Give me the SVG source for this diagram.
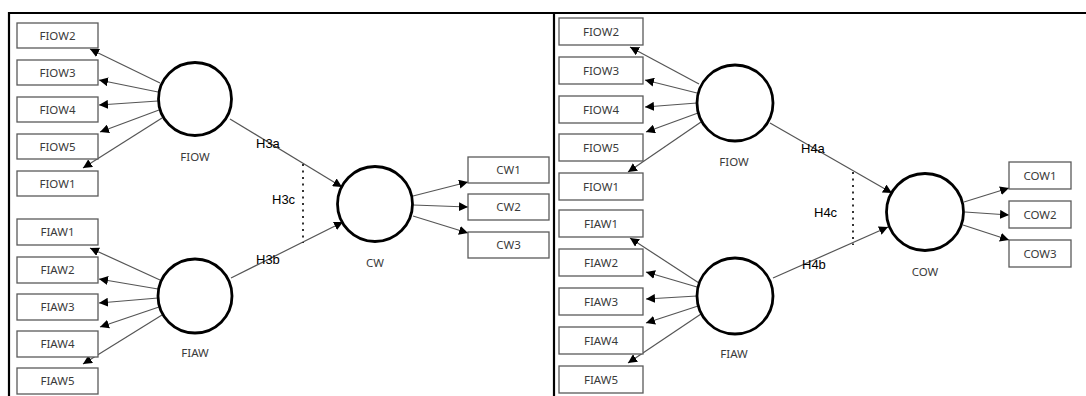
<svg xmlns="http://www.w3.org/2000/svg" width="1086" height="396" viewBox="0 0 1086 396">
  <style>
    .box rect { fill: #fff; stroke: #5a5a5a; stroke-width: 1.3; }
    .box text, .lbl { font-family: "Noto Sans", "Open Sans", sans-serif; font-size: 11.5px; fill: #3a3a3a; text-anchor: middle; }
    .lv circle { fill: #fff; stroke: #000; stroke-width: 2.8; }
    .edge { stroke: #555; stroke-width: 1.2; fill: none; marker-end: url(#arr); }
    .path { stroke: #555; stroke-width: 1.2; fill: none; marker-end: url(#arr); }
    .dot { stroke: #333; stroke-width: 2; stroke-dasharray: 2 4.5; fill: none; }
    .h { font-family: "Liberation Sans", Arial, sans-serif; font-size: 13px; fill: #000; }
    .frame { stroke: #000; stroke-width: 2.2; fill: none; }
  </style>
  <defs>
    <marker id="arr" markerUnits="userSpaceOnUse" markerWidth="11" markerHeight="9" refX="9" refY="4.5" orient="auto">
      <path d="M0,0 L9,4.5 L0,9 Z" fill="#000"/>
    </marker>
  </defs>
  <rect width="1086" height="396" fill="#fff"/>

  <!-- frame -->
  <g id="frame">
    <path class="frame" d="M9,396 V13 H1086"/>
    <path class="frame" d="M554,13 V396"/>
  </g>

  <!-- connectors -->
  <g id="connectors">
    <!-- left panel: FIOW indicators -->
    <line class="edge" x1="160" y1="83" x2="90" y2="49"/>
    <line class="edge" x1="158" y1="92" x2="99" y2="80"/>
    <line class="edge" x1="158" y1="101" x2="99" y2="105"/>
    <line class="edge" x1="159" y1="110" x2="100" y2="132"/>
    <line class="edge" x1="162" y1="118" x2="83" y2="168"/>
    <!-- left panel: FIAW indicators -->
    <line class="edge" x1="160" y1="280" x2="90" y2="248"/>
    <line class="edge" x1="158" y1="289" x2="99" y2="279"/>
    <line class="edge" x1="158" y1="298" x2="99" y2="303"/>
    <line class="edge" x1="159" y1="307" x2="100" y2="327"/>
    <line class="edge" x1="162" y1="315" x2="83" y2="364"/>
    <!-- left panel: structural paths -->
    <line class="path" x1="230" y1="119" x2="342" y2="187"/>
    <line class="path" x1="231" y1="278" x2="343" y2="222"/>
    <line class="dot" x1="303" y1="164" x2="303" y2="243"/>
    <!-- left panel: CW indicators -->
    <line class="edge" x1="413" y1="196" x2="468" y2="182"/>
    <line class="edge" x1="413" y1="205" x2="468" y2="207"/>
    <line class="edge" x1="413" y1="216" x2="468" y2="233"/>

    <!-- right panel: FIOW indicators -->
    <line class="edge" x1="699" y1="84" x2="630" y2="47"/>
    <line class="edge" x1="697" y1="93" x2="645" y2="80"/>
    <line class="edge" x1="697" y1="103" x2="645" y2="107"/>
    <line class="edge" x1="698" y1="113" x2="646" y2="132"/>
    <line class="edge" x1="701" y1="122" x2="628" y2="172"/>
    <!-- right panel: FIAW indicators -->
    <line class="edge" x1="699" y1="283" x2="630" y2="238"/>
    <line class="edge" x1="697" y1="287" x2="646" y2="272"/>
    <line class="edge" x1="697" y1="296" x2="646" y2="299"/>
    <line class="edge" x1="698" y1="306" x2="646" y2="323"/>
    <line class="edge" x1="701" y1="314" x2="628" y2="363"/>
    <!-- right panel: structural paths -->
    <line class="path" x1="770" y1="123" x2="892" y2="193"/>
    <line class="path" x1="773" y1="278" x2="888" y2="227"/>
    <line class="dot" x1="853" y1="172" x2="853" y2="245"/>
    <!-- right panel: COW indicators -->
    <line class="edge" x1="964" y1="202" x2="1009" y2="188"/>
    <line class="edge" x1="965" y1="212" x2="1009" y2="215"/>
    <line class="edge" x1="963" y1="225" x2="1009" y2="240"/>
  </g>

  <!-- path labels -->
  <g id="path-labels">
    <text class="h" x="256" y="148">H3a</text>
    <text class="h" x="272" y="204">H3c</text>
    <text class="h" x="256" y="264">H3b</text>
    <text class="h" x="801" y="153">H4a</text>
    <text class="h" x="814" y="217">H4c</text>
    <text class="h" x="802" y="269">H4b</text>
  </g>

  <!-- left panel nodes -->
  <g id="L-FIOW2" class="box"><rect x="17" y="23" width="81" height="25"/><text x="57.5" y="39.5">FIOW2</text></g>
  <g id="L-FIOW3" class="box"><rect x="17" y="60" width="81" height="25"/><text x="57.5" y="76.5">FIOW3</text></g>
  <g id="L-FIOW4" class="box"><rect x="17" y="97" width="81" height="25"/><text x="57.5" y="113.5">FIOW4</text></g>
  <g id="L-FIOW5" class="box"><rect x="17" y="134" width="81" height="25"/><text x="57.5" y="150.5">FIOW5</text></g>
  <g id="L-FIOW1" class="box"><rect x="17" y="171" width="81" height="25"/><text x="57.5" y="187.5">FIOW1</text></g>

  <g id="L-FIAW1" class="box"><rect x="17" y="219" width="81" height="26"/><text x="57.5" y="236">FIAW1</text></g>
  <g id="L-FIAW2" class="box"><rect x="17" y="257" width="81" height="26"/><text x="57.5" y="274">FIAW2</text></g>
  <g id="L-FIAW3" class="box"><rect x="17" y="294" width="81" height="26"/><text x="57.5" y="311">FIAW3</text></g>
  <g id="L-FIAW4" class="box"><rect x="17" y="331" width="81" height="26"/><text x="57.5" y="348">FIAW4</text></g>
  <g id="L-FIAW5" class="box"><rect x="17" y="368" width="81" height="26"/><text x="57.5" y="385">FIAW5</text></g>

  <g id="L-FIOW" class="lv"><circle cx="195" cy="99" r="36.5"/><text class="lbl" x="195" y="161">FIOW</text></g>
  <g id="L-FIAW" class="lv"><circle cx="195" cy="296" r="37"/><text class="lbl" x="195" y="357">FIAW</text></g>
  <g id="L-CW" class="lv"><circle cx="375" cy="204" r="37.5"/><text class="lbl" x="375" y="267">CW</text></g>

  <g id="L-CW1" class="box"><rect x="468" y="157" width="81" height="26"/><text x="508.5" y="174">CW1</text></g>
  <g id="L-CW2" class="box"><rect x="468" y="194" width="81" height="26"/><text x="508.5" y="211">CW2</text></g>
  <g id="L-CW3" class="box"><rect x="468" y="232" width="81" height="26"/><text x="508.5" y="249">CW3</text></g>

  <!-- right panel nodes -->
  <g id="R-FIOW2" class="box"><rect x="559" y="18" width="84" height="27"/><text x="601" y="35.5">FIOW2</text></g>
  <g id="R-FIOW3" class="box"><rect x="559" y="57" width="84" height="27"/><text x="601" y="74.5">FIOW3</text></g>
  <g id="R-FIOW4" class="box"><rect x="559" y="96" width="84" height="27"/><text x="601" y="113.5">FIOW4</text></g>
  <g id="R-FIOW5" class="box"><rect x="559" y="134" width="84" height="27"/><text x="601" y="151.5">FIOW5</text></g>
  <g id="R-FIOW1" class="box"><rect x="559" y="173" width="84" height="27"/><text x="601" y="190.5">FIOW1</text></g>

  <g id="R-FIAW1" class="box"><rect x="559" y="210" width="84" height="27"/><text x="601" y="227.5">FIAW1</text></g>
  <g id="R-FIAW2" class="box"><rect x="559" y="249" width="84" height="27"/><text x="601" y="266.5">FIAW2</text></g>
  <g id="R-FIAW3" class="box"><rect x="559" y="288" width="84" height="27"/><text x="601" y="305.5">FIAW3</text></g>
  <g id="R-FIAW4" class="box"><rect x="559" y="327" width="84" height="27"/><text x="601" y="344.5">FIAW4</text></g>
  <g id="R-FIAW5" class="box"><rect x="559" y="366" width="84" height="27"/><text x="601" y="383.5">FIAW5</text></g>

  <g id="R-FIOW" class="lv"><circle cx="735" cy="103" r="38"/><text class="lbl" x="734" y="166">FIOW</text></g>
  <g id="R-FIAW" class="lv"><circle cx="735" cy="296" r="38"/><text class="lbl" x="734" y="358">FIAW</text></g>
  <g id="R-COW" class="lv"><circle cx="925" cy="212" r="38.5"/><text class="lbl" x="925" y="276">COW</text></g>

  <g id="R-COW1" class="box"><rect x="1009" y="162" width="62" height="27"/><text x="1040" y="179.5">COW1</text></g>
  <g id="R-COW2" class="box"><rect x="1009" y="201" width="62" height="27"/><text x="1040" y="218.5">COW2</text></g>
  <g id="R-COW3" class="box"><rect x="1009" y="240" width="62" height="27"/><text x="1040" y="257.5">COW3</text></g>
</svg>
